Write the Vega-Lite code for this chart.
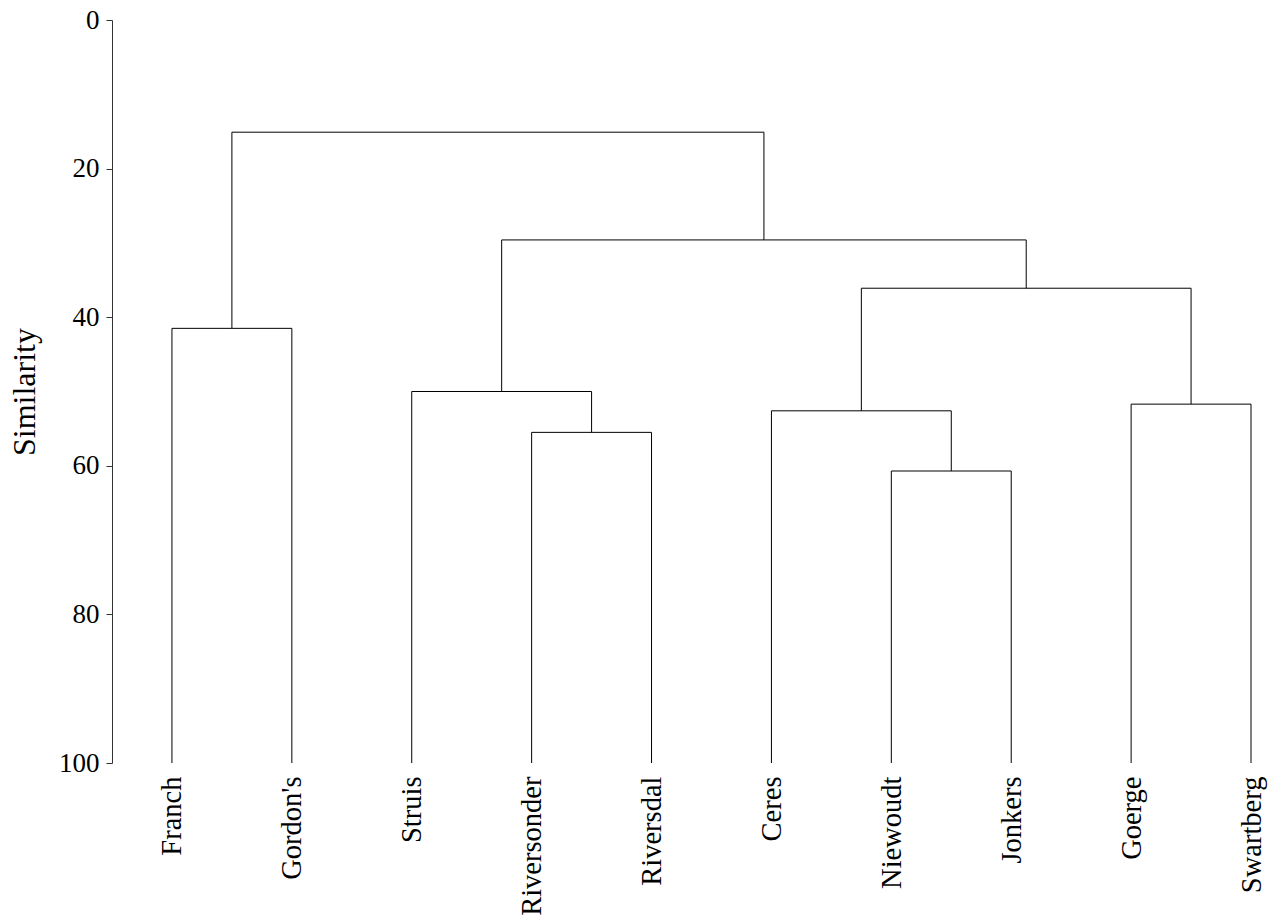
{
  "$schema": "https://vega.github.io/schema/vega-lite/v6.json",
  "width": 1157,
  "height": 743,
  "autosize": "none",
  "padding": {"left": 112, "top": 20, "right": 5, "bottom": 156},
  "background": "white",
  "config": {
    "view": {"stroke": null},
    "font": "Liberation Serif",
    "axis": {"labelFont": "Liberation Serif", "titleFont": "Liberation Serif", "grid": false}
  },
  "data": {
    "values": [
      {"x": 1, "x2": 1, "y": 100, "y2": 41.5},
      {"x": 2, "x2": 2, "y": 100, "y2": 41.5},
      {"x": 3, "x2": 3, "y": 100, "y2": 50.0},
      {"x": 4, "x2": 4, "y": 100, "y2": 55.5},
      {"x": 5, "x2": 5, "y": 100, "y2": 55.5},
      {"x": 6, "x2": 6, "y": 100, "y2": 52.6},
      {"x": 7, "x2": 7, "y": 100, "y2": 60.7},
      {"x": 8, "x2": 8, "y": 100, "y2": 60.7},
      {"x": 9, "x2": 9, "y": 100, "y2": 51.7},
      {"x": 10, "x2": 10, "y": 100, "y2": 51.7},
      {"x": 1, "x2": 2, "y": 41.5, "y2": 41.5},
      {"x": 4, "x2": 5, "y": 55.5, "y2": 55.5},
      {"x": 4.5, "x2": 4.5, "y": 55.5, "y2": 50.0},
      {"x": 3, "x2": 4.5, "y": 50.0, "y2": 50.0},
      {"x": 7, "x2": 8, "y": 60.7, "y2": 60.7},
      {"x": 7.5, "x2": 7.5, "y": 60.7, "y2": 52.6},
      {"x": 6, "x2": 7.5, "y": 52.6, "y2": 52.6},
      {"x": 9, "x2": 10, "y": 51.7, "y2": 51.7},
      {"x": 6.75, "x2": 6.75, "y": 52.6, "y2": 36.1},
      {"x": 9.5, "x2": 9.5, "y": 51.7, "y2": 36.1},
      {"x": 6.75, "x2": 9.5, "y": 36.1, "y2": 36.1},
      {"x": 3.75, "x2": 3.75, "y": 50.0, "y2": 29.6},
      {"x": 8.125, "x2": 8.125, "y": 36.1, "y2": 29.6},
      {"x": 3.75, "x2": 8.125, "y": 29.6, "y2": 29.6},
      {"x": 1.5, "x2": 1.5, "y": 41.5, "y2": 15.1},
      {"x": 5.9375, "x2": 5.9375, "y": 29.6, "y2": 15.1},
      {"x": 1.5, "x2": 5.9375, "y": 15.1, "y2": 15.1}
    ]
  },
  "mark": {"type": "rule", "color": "black", "strokeWidth": 1},
  "encoding": {
    "x": {
      "field": "x",
      "type": "quantitative",
      "scale": {"domain": [0.5, 10.15], "nice": false, "zero": false},
      "axis": {
        "title": null,
        "domain": false,
        "ticks": false,
        "values": [1, 2, 3, 4, 5, 6, 7, 8, 9, 10],
        "labelExpr": "[\"Franch\", \"Gordon's\", \"Struis\", \"Riversonder\", \"Riversdal\", \"Ceres\", \"Niewoudt\", \"Jonkers\", \"Goerge\", \"Swartberg\"][datum.value - 1]",
        "labelAngle": -90,
        "labelFont": "Liberation Serif",
        "labelFontSize": 28.5,
        "labelColor": "black",
        "labelPadding": 13,
        "labelOverlap": false,
        "labelFlush": false,
        "labelBound": false
      }
    },
    "x2": {"field": "x2"},
    "y": {
      "field": "y",
      "type": "quantitative",
      "scale": {"domain": [0, 100], "reverse": true, "nice": false, "zero": false},
      "axis": {
        "title": "Similarity",
        "titleFont": "Liberation Serif",
        "titleFontSize": 32,
        "titleFontWeight": "normal",
        "titleColor": "black",
        "titlePadding": 17,
        "values": [0, 20, 40, 60, 80, 100],
        "domainColor": "#333333",
        "tickColor": "#333333",
        "tickSize": 6,
        "labelFont": "Liberation Serif",
        "labelFontSize": 27,
        "labelColor": "black",
        "labelPadding": 7,
        "labelFlush": false,
        "labelOverlap": false
      }
    },
    "y2": {"field": "y2"}
  }
}
